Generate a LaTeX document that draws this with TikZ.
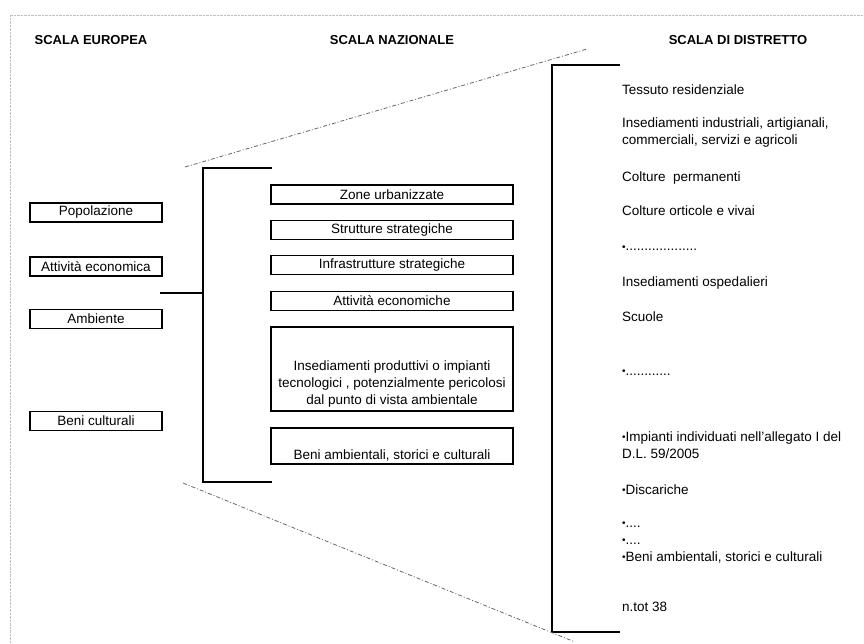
\documentclass[tikz,border=0pt]{standalone}
\usepackage{fontspec}
\setmainfont{Liberation Sans}
\usetikzlibrary{positioning}

\newcommand{\blt}{\raisebox{0.6pt}{\fontsize{10}{10}\selectfont\textbullet}}

\begin{document}
\begin{tikzpicture}[x=1pt,y=-1pt,
  every node/.style={font=\fontsize{13.5}{17}\selectfont},
  header/.style={font=\fontsize{13}{15}\selectfont\bfseries},
  leftbox/.style={draw, line width=1.6pt, minimum width=132pt, minimum height=19pt, inner sep=0pt},
  midbox/.style={draw, line width=1.6pt, minimum width=242pt, minimum height=19pt, inner sep=0pt},
  item/.style={anchor=base west, align=left, inner sep=0pt},
  bracket/.style={line width=2.6pt},
  zoomline/.style={black!60, line width=0.8pt, dash pattern=on 4pt off 2pt on 1pt off 2pt}]
  \useasboundingbox (0,0) rectangle (864,644);

  % Draw the frame
  \draw[black!25, densely dotted] (10,644) -- (10,15) -- (864,15);

  % Draw the headers
  \node[header] (eu) at (91,40) {SCALA EUROPEA};
  \node[header] (naz) at (392,40) {SCALA NAZIONALE};
  \node[header] (dist) at (738,40) {SCALA DI DISTRETTO};

  % Draw the european boxes
  \node[leftbox] (pop) at (96,212.5) {Popolazione};
  \node[leftbox] (att) at (96,266.5) {Attività economica};
  \node[leftbox] (amb) at (96,319) {Ambiente};
  \node[leftbox] (ben) at (96,421) {Beni culturali};

  % Draw the national boxes
  \node[midbox] (zone) at (392,194.5) {Zone urbanizzate};
  \node[midbox] (strut) at (392,230) {Strutture strategiche};
  \node[midbox] (infra) at (392,265) {Infrastrutture strategiche};
  \node[midbox] (attec) at (392,301) {Attività economiche};
  \node[midbox, minimum height=84pt] (insbox) at (392,369) {};
  \node[align=center, anchor=south, inner sep=0pt] (ins) at (392,407)
    {Insediamenti produttivi o impianti\\tecnologici , potenzialmente pericolosi\\dal punto di vista ambientale};
  \node[midbox, minimum height=36pt] (benbox) at (392,446) {};
  \node[anchor=base, inner sep=0pt] (benamb) at (392,459) {Beni ambientali, storici e culturali};

  % Draw the brackets
  \coordinate (lbtop) at (272,168);
  \coordinate (lbbot) at (272,482);
  \coordinate (lbmid) at (203,293);
  \coordinate (link) at (160,293);
  \draw[bracket] (lbtop) -- (203,168) -- (203,482) -- (lbbot);
  \draw[bracket] (link) -- (lbmid);

  \coordinate (rbtop) at (620,65);
  \coordinate (rbbot) at (620,632);
  \draw[bracket] (rbtop) -- (552,65) -- (552,632) -- (rbbot);

  % Draw the zoom lines
  \coordinate (ztl) at (185,167);
  \coordinate (ztr) at (587,49);
  \coordinate (zbl) at (183,483);
  \coordinate (zbr) at (575,642);
  \draw[zoomline] (ztl) -- (ztr);
  \draw[zoomline] (zbl) -- (zbr);

  % Draw the district list
  \node[item] (tess) at (622,94.5) {Tessuto residenziale};
  \node[item] (indu) at (622,144.5) {Insediamenti industriali, artigianali,\\commerciali, servizi e agricoli};
  \node[item] (perm) at (622,181.5) {Colture\ \ permanenti};
  \node[item] (orti) at (622,215.5) {Colture orticole e vivai};
  \node[item] (dots1) at (622,251) {\blt...................};
  \node[item] (osp) at (622,286.5) {Insediamenti ospedalieri};
  \node[item] (scu) at (622,321.5) {Scuole};
  \node[item] (dots2) at (622,375) {\blt............};
  \node[item] (imp) at (622,458) {\blt Impianti individuati nell'allegato I del\\D.L. 59/2005};
  \node[item] (disc) at (622,494.5) {\blt Discariche};
  \node[item] (dots3) at (622,527) {\blt....};
  \node[item] (dots4) at (622,544) {\blt....};
  \node[item] (benc) at (622,561.5) {\blt Beni ambientali, storici e culturali};
  \node[item] (ntot) at (622,611.5) {n.tot 38};

\end{tikzpicture}
\end{document}
